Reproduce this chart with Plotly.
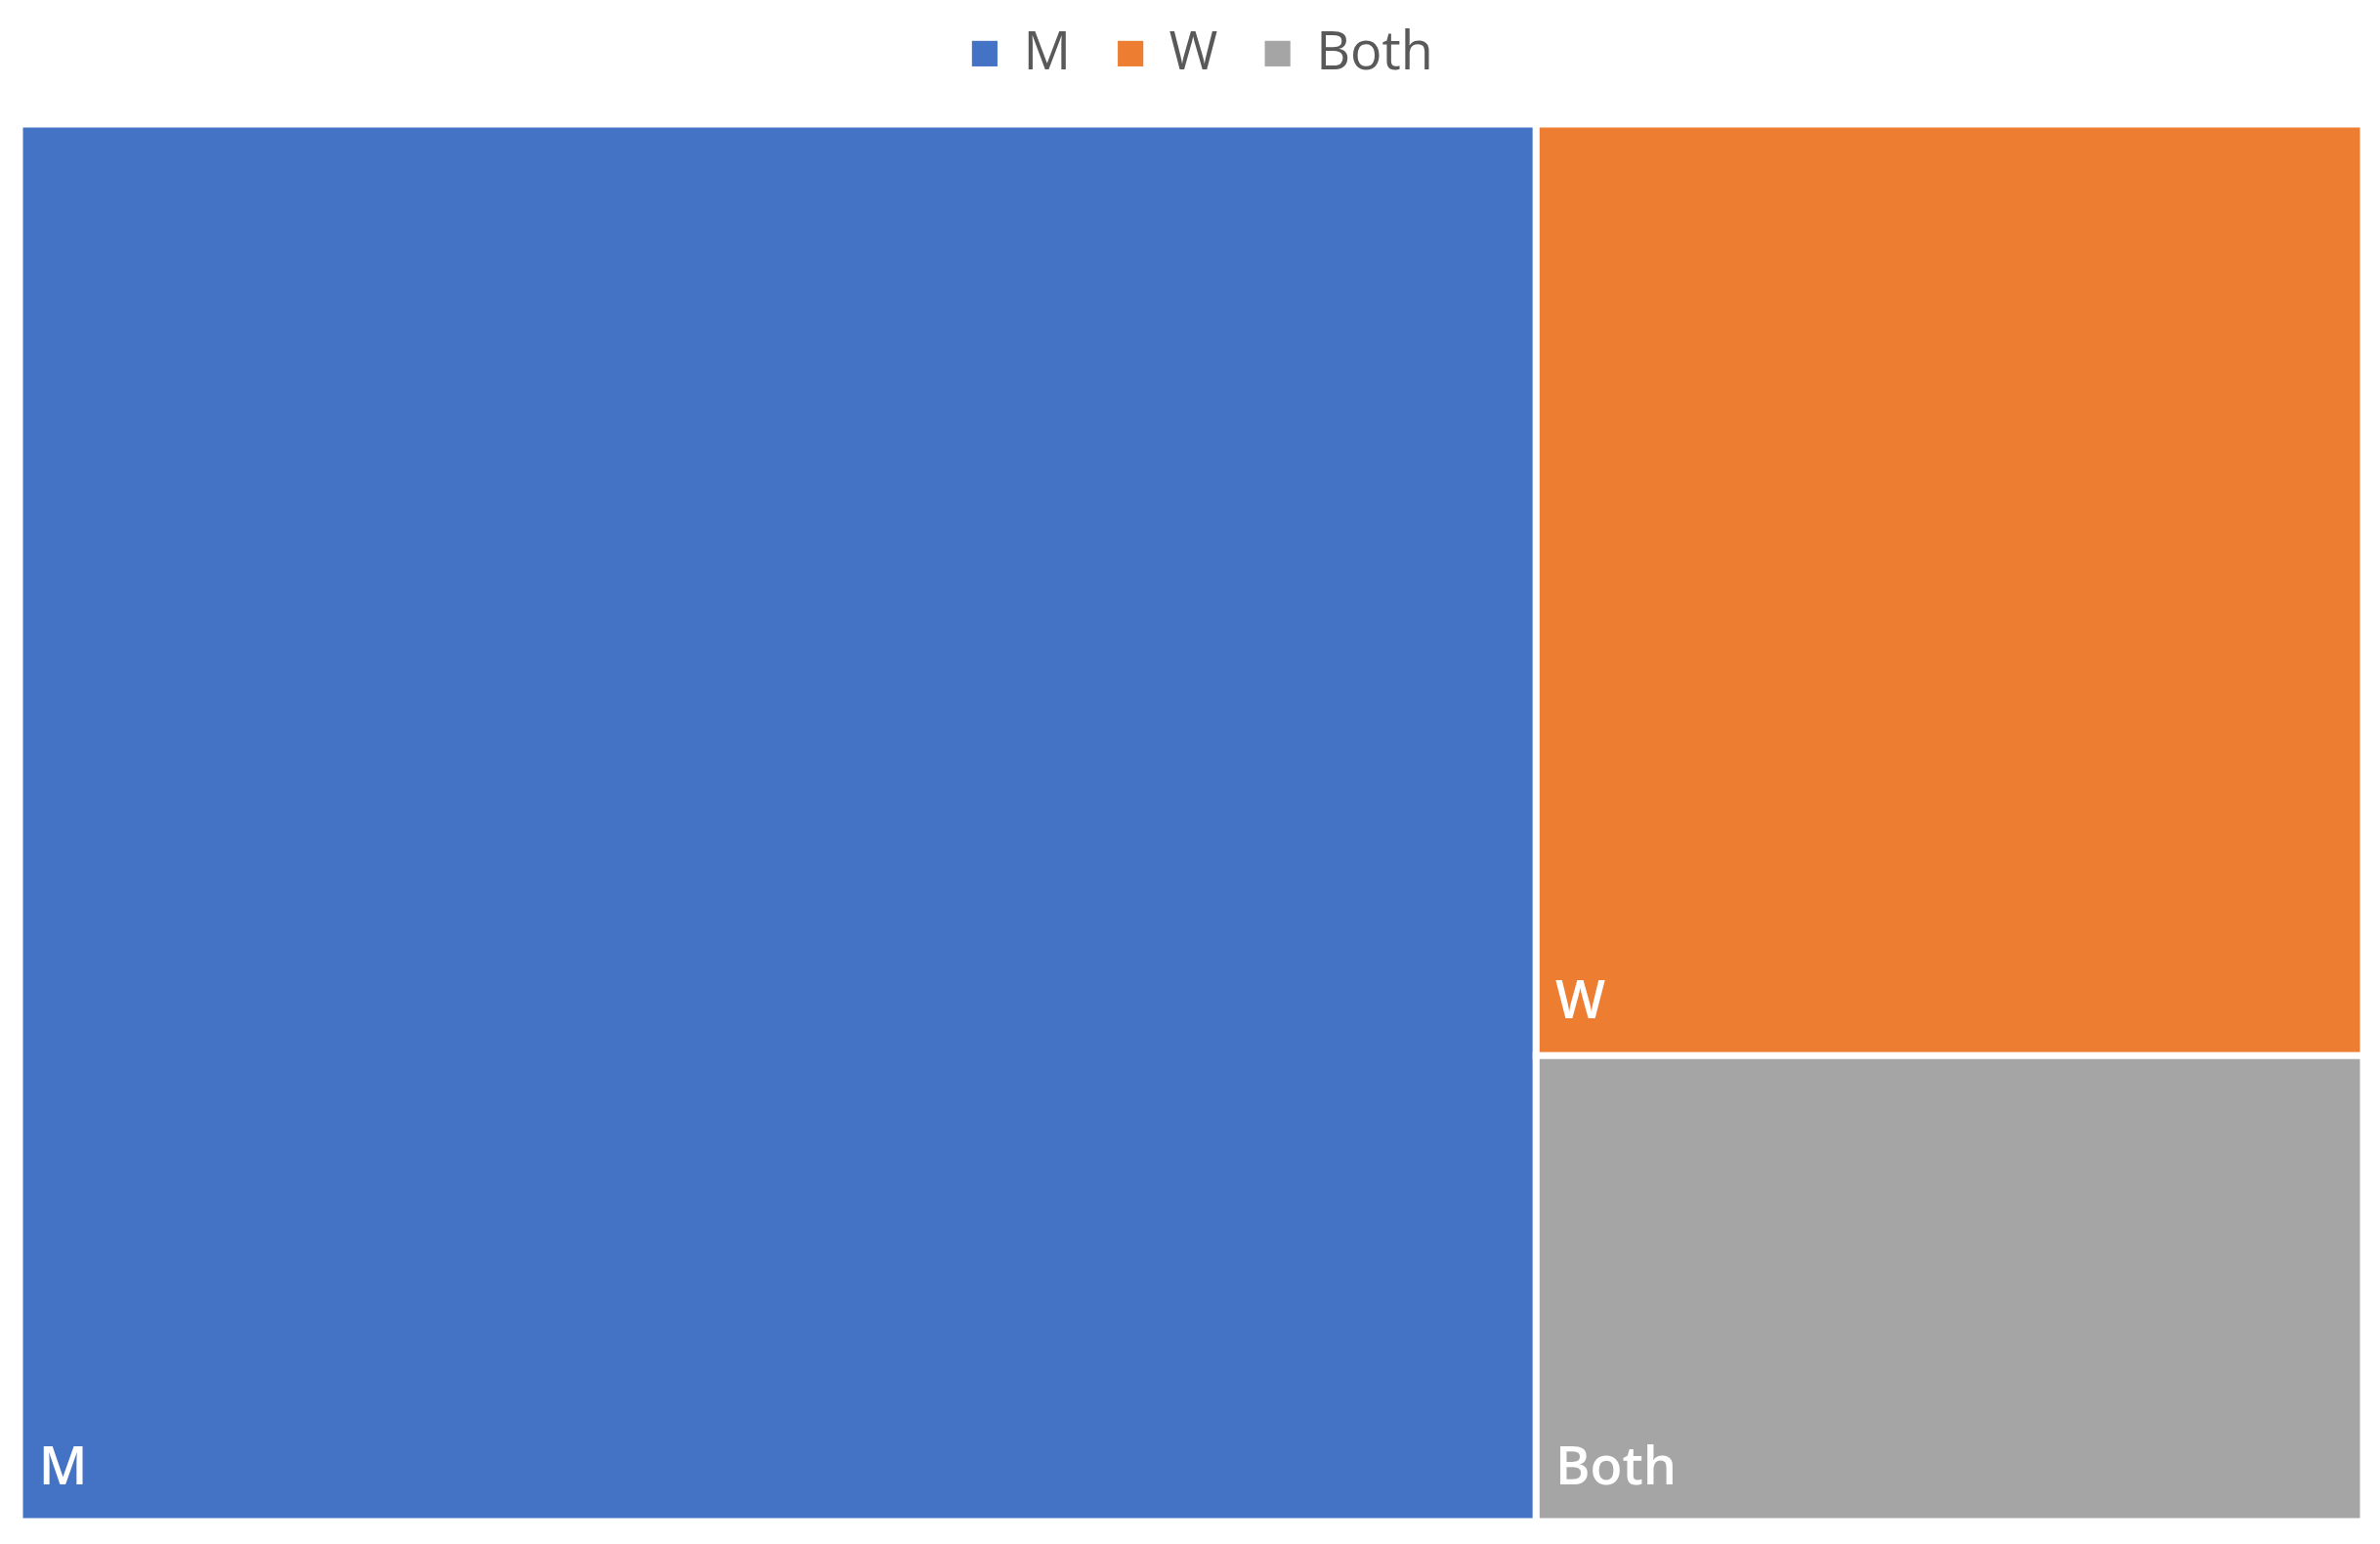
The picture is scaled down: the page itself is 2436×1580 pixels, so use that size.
import plotly.graph_objects as go

labels = ["M", "W", "Both"]
values = [55, 20, 10]
colors = ["#4472C4", "#ED7D31", "#A5A5A5"]

fig = go.Figure()
fig.add_trace(go.Treemap(
    labels=labels,
    parents=["", "", ""],
    values=values,
    marker=dict(colors=colors, line=dict(color="white", width=7),
                pad=dict(t=0, l=0, r=0, b=0)),
    texttemplate="<span style='font-size:64px'>\u00a0</span>%{label}<span style='font-size:118px'>\u00a0</span>",
    textposition="bottom left",
    textfont=dict(color="white", size=54, family="Open Sans", weight=600),
    tiling=dict(packing="squarify", pad=0),
    pathbar=dict(visible=False),
    sort=True,
    hoverinfo="label+value",
    domain=dict(x=[0, 1], y=[0, 1]),
))

for lab, col in zip(labels, colors):
    fig.add_trace(go.Scatter(
        x=[None], y=[None], mode="markers",
        name=f"<span style='color:{col};font-size:54px'>\u25a0</span>\u00a0\u2009{lab}",
        marker=dict(symbol="square", size=1, color="rgba(0,0,0,0)"),
        showlegend=True,
    ))

fig.update_layout(
    width=2436, height=1580,
    margin=dict(l=12, r=25, t=119, b=31, autoexpand=False),
    paper_bgcolor="white", plot_bgcolor="white",
    xaxis=dict(visible=False), yaxis=dict(visible=False),
    legend=dict(
        orientation="h", x=0.497, xanchor="center",
        yref="container", y=1, yanchor="top",
        font=dict(family="Open Sans", size=54, color="#595959"),
        itemwidth=30, tracegroupgap=0,
    ),
    font=dict(family="Open Sans"),
)

fig.write_html("out.html")
